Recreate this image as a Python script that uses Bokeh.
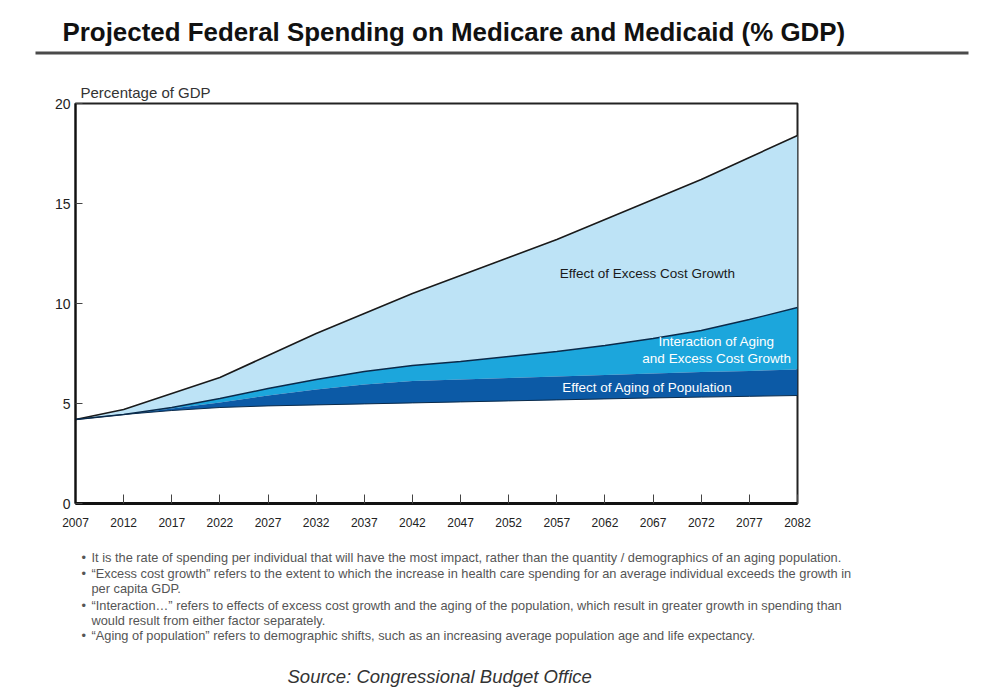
from bokeh.plotting import figure
from bokeh.models import Range1d, Label, FixedTicker, Title
from bokeh.layouts import column
from bokeh.core.properties import value
from bokeh.embed import file_html
from bokeh.resources import INLINE

# ---- data ----
years = [2007, 2012, 2017, 2022, 2027, 2032, 2037, 2042, 2047, 2052, 2057, 2062, 2067, 2072, 2077, 2082]
base_level = [4.2, 4.45, 4.65, 4.8, 4.88, 4.93, 4.98, 5.03, 5.08, 5.13, 5.18, 5.23, 5.28, 5.32, 5.36, 5.4]
aging_top = [4.2, 4.45, 4.75, 5.05, 5.4, 5.7, 5.95, 6.12, 6.2, 6.27, 6.35, 6.42, 6.5, 6.57, 6.63, 6.7]
interaction_top = [4.2, 4.45, 4.8, 5.25, 5.75, 6.2, 6.6, 6.9, 7.1, 7.35, 7.6, 7.9, 8.25, 8.65, 9.2, 9.8]
total = [4.2, 4.7, 5.5, 6.3, 7.4, 8.5, 9.5, 10.5, 11.4, 12.3, 13.2, 14.2, 15.2, 16.2, 17.3, 18.4]

y_ticks = [0, 5, 10, 15, 20]
x_ticks = years

title_text = "Projected Federal Spending on Medicare and Medicaid (% GDP)"
y_label = "Percentage of GDP"
area_labels = ["Effect of Excess Cost Growth", "Interaction of Aging", "and Excess Cost Growth",
               "Effect of Aging of Population"]
note_lines = [
    "It is the rate of spending per individual that will have the most impact, rather than the quantity / demographics of an aging population.",
    "\u201cExcess cost growth\u201d refers to the extent to which the increase in health care spending for an average individual exceeds the growth in",
    "per capita GDP.",
    "\u201cInteraction\u2026\u201d refers to effects of excess cost growth and the aging of the population, which result in greater growth in spending than",
    "would result from either factor separately.",
    "\u201cAging of population\u201d refers to demographic shifts, such as an increasing average population age and life expectancy.",
]
note_has_bullet = [True, True, False, True, False, True]
source_text = "Source:  Congressional Budget Office"

LIGHT = "#bde3f6"
MID = "#1ca6dc"
DARK = "#0c5aa6"
FONT = "Liberation Sans"

W = 984

# ---------------- header ----------------
TOP_H = 70
top = figure(width=W, height=TOP_H, output_backend="svg", toolbar_location=None,
             x_range=Range1d(0, W), y_range=Range1d(TOP_H, 0),
             x_axis_location=None, y_axis_location=None,
             min_border=0, outline_line_color=None)
top.frame_align = False
top.grid.visible = False
top.text(x=[62], y=[31], text=[title_text], text_baseline="middle",
         text_font=value(FONT), text_font_style="bold", text_font_size="25.9px", text_color="#111111")
top.segment(x0=[35], y0=[52.5], x1=[968], y1=[52.5], line_color="#4a4a4a", line_width=3)

# ---------------- main chart ----------------
p = figure(width=W, height=468, output_backend="svg", toolbar_location=None,
           x_range=Range1d(2007, 2082), y_range=Range1d(0, 20),
           min_border_left=75, min_border_right=W - 797, min_border_top=33, min_border_bottom=35)
p.frame_align = False
p.background_fill_color = "white"
p.border_fill_color = "white"
p.grid.visible = False
p.outline_line_color = "#222222"
p.outline_line_width = 2

p.title = Title(text=y_label, align="left", offset=5, standoff=5, text_font=FONT,
                text_font_size="15px", text_font_style="normal", text_color="#333333")

p.varea(x=years, y1=interaction_top, y2=total, fill_color=LIGHT)
p.varea(x=years, y1=aging_top, y2=interaction_top, fill_color=MID)
p.varea(x=years, y1=base_level, y2=aging_top, fill_color=DARK)
p.line(years, total, line_color="#1a1a1a", line_width=1.6)
p.line(years, interaction_top, line_color="#0a2a4a", line_width=1.4)
p.line(years, base_level, line_color="#0a2a4a", line_width=1.0)

p.xaxis.ticker = FixedTicker(ticks=x_ticks)
p.yaxis.ticker = FixedTicker(ticks=y_ticks)
p.xaxis.minor_tick_line_color = None
p.yaxis.minor_tick_line_color = None
p.xaxis.major_tick_in = 9
p.xaxis.major_tick_out = 0
p.yaxis.major_tick_in = 7
p.yaxis.major_tick_out = 0
p.xaxis.axis_line_width = 3
p.yaxis.axis_line_width = 2
p.xaxis.axis_line_color = "#111111"
p.yaxis.axis_line_color = "#111111"
p.xaxis.major_tick_line_color = "#444444"
p.yaxis.major_tick_line_color = "#444444"
p.xaxis.major_label_standoff = 14
p.yaxis.major_label_standoff = 5
for ax in (p.xaxis, p.yaxis):
    ax.major_label_text_font = FONT
    ax.major_label_text_color = "#222222"
p.xaxis.major_label_text_font_size = "12px"
p.yaxis.major_label_text_font_size = "14px"

LBL = "13.5px"
p.add_layout(Label(x=2066.4, y=11.5, text=area_labels[0], text_align="center", text_baseline="middle",
                   text_font=FONT, text_font_size=LBL, text_color="#1a1a1a"))
p.add_layout(Label(x=2073.6, y=8.1, text=area_labels[1], text_align="center", text_baseline="middle",
                   text_font=FONT, text_font_size=LBL, text_color="white"))
p.add_layout(Label(x=2073.6, y=7.25, text=area_labels[2], text_align="center", text_baseline="middle",
                   text_font=FONT, text_font_size=LBL, text_color="white"))
p.add_layout(Label(x=2066.4, y=5.8, text=area_labels[3], text_align="center", text_baseline="middle",
                   text_font=FONT, text_font_size=LBL, text_color="white"))

# ---------------- footer ----------------
BOT_Y0 = TOP_H + 468
BOT_H = 700 - BOT_Y0
bot = figure(width=W, height=BOT_H, output_backend="svg", toolbar_location=None,
             x_range=Range1d(0, W), y_range=Range1d(BOT_H, 0),
             x_axis_location=None, y_axis_location=None,
             min_border=0, outline_line_color=None)
bot.frame_align = False
bot.grid.visible = False
note_y = [557, 573, 588, 605, 620, 635]
ys = [v - BOT_Y0 for v in note_y]
bot.text(x=[91] * len(note_lines), y=ys, text=note_lines, text_baseline="middle",
         text_font=value(FONT), text_font_size="12.8px", text_color="#555555")
by = [y for y, b in zip(ys, note_has_bullet) if b]
bot.text(x=[81] * len(by), y=by, text=["\u2022"] * len(by), text_baseline="middle",
         text_font=value(FONT), text_font_size="12.8px", text_color="#555555")
bot.text(x=[287], y=[676 - BOT_Y0], text=[source_text], text_baseline="middle",
         text_font=value(FONT), text_font_style="italic", text_font_size="18.5px", text_color="#333333")

layout = column(top, p, bot, spacing=0)
open("out.html", "w").write(file_html(layout, INLINE))
